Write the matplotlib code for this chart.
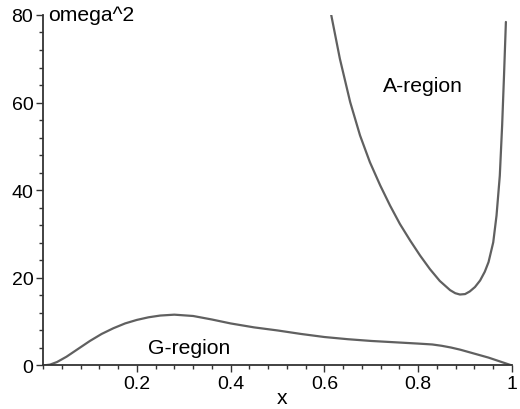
import matplotlib
matplotlib.use("Agg")
import matplotlib.pyplot as plt
from matplotlib.ticker import MultipleLocator

plt.rcParams['font.family'] = ['Liberation Sans', 'DejaVu Sans']

# Gravity-mode branch (G-region)
g_x = [0.0, 0.015, 0.03, 0.05, 0.075, 0.10, 0.125, 0.15, 0.175, 0.20, 0.225,
       0.25, 0.28, 0.32, 0.36, 0.40, 0.45, 0.50, 0.55, 0.60, 0.65, 0.70,
       0.75, 0.80, 0.83, 0.85, 0.87, 0.89, 0.91, 0.93, 0.95, 0.975, 1.0]
g_w2 = [0.0, 0.2, 0.8, 2.0, 3.8, 5.6, 7.2, 8.5, 9.6, 10.4, 11.0,
        11.4, 11.6, 11.3, 10.5, 9.6, 8.7, 8.0, 7.2, 6.5, 6.0, 5.6,
        5.3, 5.0, 4.8, 4.5, 4.1, 3.6, 3.0, 2.4, 1.8, 0.9, 0.0]

# Acoustic-mode branch (A-region)
a_x = [0.614, 0.633, 0.655, 0.676, 0.697, 0.719, 0.740, 0.761, 0.783, 0.804,
       0.825, 0.846, 0.868, 0.879, 0.889, 0.900, 0.910, 0.921, 0.932, 0.942,
       0.950, 0.960, 0.967, 0.974, 0.979, 0.983, 0.987]
a_w2 = [80.3, 70.0, 60.1, 52.5, 46.4, 41.1, 36.5, 32.3, 28.5, 25.1,
        22.0, 19.3, 17.2, 16.5, 16.2, 16.3, 16.9, 17.9, 19.4, 21.4,
        23.6, 28.1, 34.2, 43.3, 54.8, 66.2, 78.4]

x_ticks = [0.2, 0.4, 0.6, 0.8, 1.0]
x_tick_labels = ["0.2", "0.4", "0.6", "0.8", "1"]
y_ticks = [0, 20, 40, 60, 80]

fig = plt.figure(figsize=(5.2, 4.1), dpi=100)
ax = fig.add_axes([0.0827, 0.1061, 0.9019, 0.855])

line_color = "#606060"
ax.plot(g_x, g_w2, color=line_color, lw=1.6, solid_capstyle='round',
        solid_joinstyle='round')
ax.plot(a_x, a_w2, color=line_color, lw=1.6, solid_capstyle='round',
        solid_joinstyle='round')

ax.set_xlim(0, 1)
ax.set_ylim(0, 80)
for s in ("top", "right"):
    ax.spines[s].set_visible(False)
for s in ("left", "bottom"):
    ax.spines[s].set_color("#333333")
    ax.spines[s].set_linewidth(1.3)

ax.set_xticks(x_ticks)
ax.set_xticklabels(x_tick_labels)
ax.set_yticks(y_ticks)
ax.xaxis.set_minor_locator(MultipleLocator(0.04))
ax.yaxis.set_minor_locator(MultipleLocator(4))
ax.tick_params(which='major', length=5, width=1.0, color="#333333",
               labelsize=14, pad=2)
ax.tick_params(which='minor', length=3, width=1.0, color="#333333")

label_size = 15.2
ax.text(0.01, 80, "omega^2", fontsize=label_size, ha='left', va='center')
ax.text(0.81, 64, "A-region", fontsize=label_size, ha='center', va='center')
ax.text(0.311, 4.0, "G-region", fontsize=label_size, ha='center', va='center')
ax.set_xlabel("x", fontsize=label_size)
ax.xaxis.set_label_coords(0.51, -0.065)

fig.savefig("out.png", dpi=100)
